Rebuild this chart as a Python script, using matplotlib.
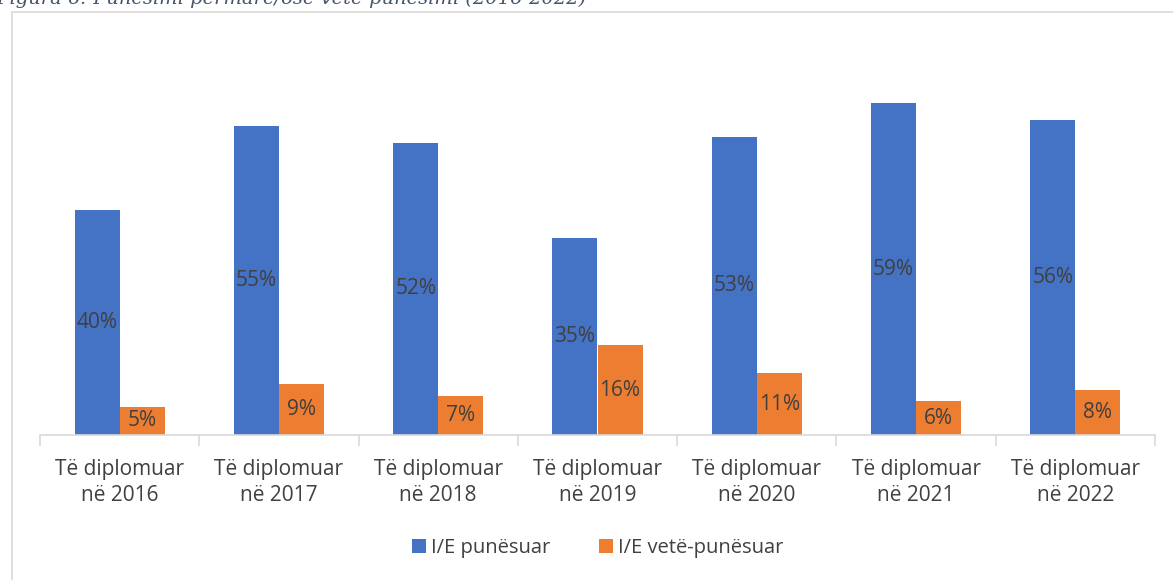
import numpy as np
import matplotlib
matplotlib.use("Agg")
import matplotlib.pyplot as plt
from matplotlib.patches import Rectangle

# --- data ------------------------------------------------------------------
CATEGORIES = ["Të diplomuar\nnë 2016", "Të diplomuar\nnë 2017", "Të diplomuar\nnë 2018",
              "Të diplomuar\nnë 2019", "Të diplomuar\nnë 2020", "Të diplomuar\nnë 2021",
              "Të diplomuar\nnë 2022"]
EMPLOYED = [40, 55, 52, 35, 53, 59, 56]
SELF_EMPLOYED = [5, 9, 7, 16, 11, 6, 8]
SERIES_NAMES = ["I/E punësuar", "I/E vetë-punësuar"]
CAPTION = "Figura 6: Punësimi përmarë/ose vetë-punësimi (2016-2022)"

BLUE = "#4472c4"
ORANGE = "#ed7d31"
TEXT = "#404040"
GRID = "#d9d9d9"

plt.rcParams["font.family"] = ["Open Sans", "DejaVu Sans"]

W, H = 1173, 580
fig = plt.figure(figsize=(W / 100, H / 100), dpi=100)

# chart-area frame (runs off the bottom/right edge like the screenshot)
fig.patches.append(Rectangle((12 / W, -0.05), 1.2, (H - 12) / H + 0.05,
                             transform=fig.transFigure, fill=False,
                             edgecolor=GRID, lw=1.2))

# caption, cropped at the top edge as in the screenshot
fig.text(-0.003, 1.0 + 1 / H, CAPTION, family="DejaVu Serif", style="italic",
         fontsize=14, color="#44546a", ha="left", va="center")

ymax = 65
px_per = 5.625
ax = fig.add_axes([40 / W, 145 / H, (1155 - 40) / W, ymax * px_per / H])

n = len(CATEGORIES)
x = np.arange(n)
w = 0.283
b1 = ax.bar(x - w / 2, EMPLOYED, w, color=BLUE, label=SERIES_NAMES[0])
b2 = ax.bar(x + w / 2, SELF_EMPLOYED, w, color=ORANGE, label=SERIES_NAMES[1])
for bars in (b1, b2):
    ax.bar_label(bars, labels=[f"{v}%" for v in bars.datavalues], label_type="center",
                 fontsize=15, color=TEXT)

ax.set_xlim(-0.5, n - 0.5)
ax.set_ylim(0, ymax)
for s in ("top", "right", "left"):
    ax.spines[s].set_visible(False)
ax.spines["bottom"].set_color(GRID)
ax.spines["bottom"].set_linewidth(1.2)
ax.set_yticks([])
ax.set_xticks(x)
ax.set_xticklabels(CATEGORIES, fontsize=15, color=TEXT, linespacing=1.35)
ax.tick_params(axis="x", which="major", length=0, pad=17)
ax.set_xticks(np.arange(n + 1) - 0.5, minor=True)
ax.tick_params(axis="x", which="minor", length=8, color=GRID, width=1.2)

ax.legend(loc="center", bbox_to_anchor=(0.5, -0.31), ncol=2, frameon=False,
          fontsize=14.5, labelcolor=TEXT, handlelength=0.7, handleheight=0.7,
          handletextpad=0.25, columnspacing=2.4)

fig.savefig("out.png", dpi=100)
